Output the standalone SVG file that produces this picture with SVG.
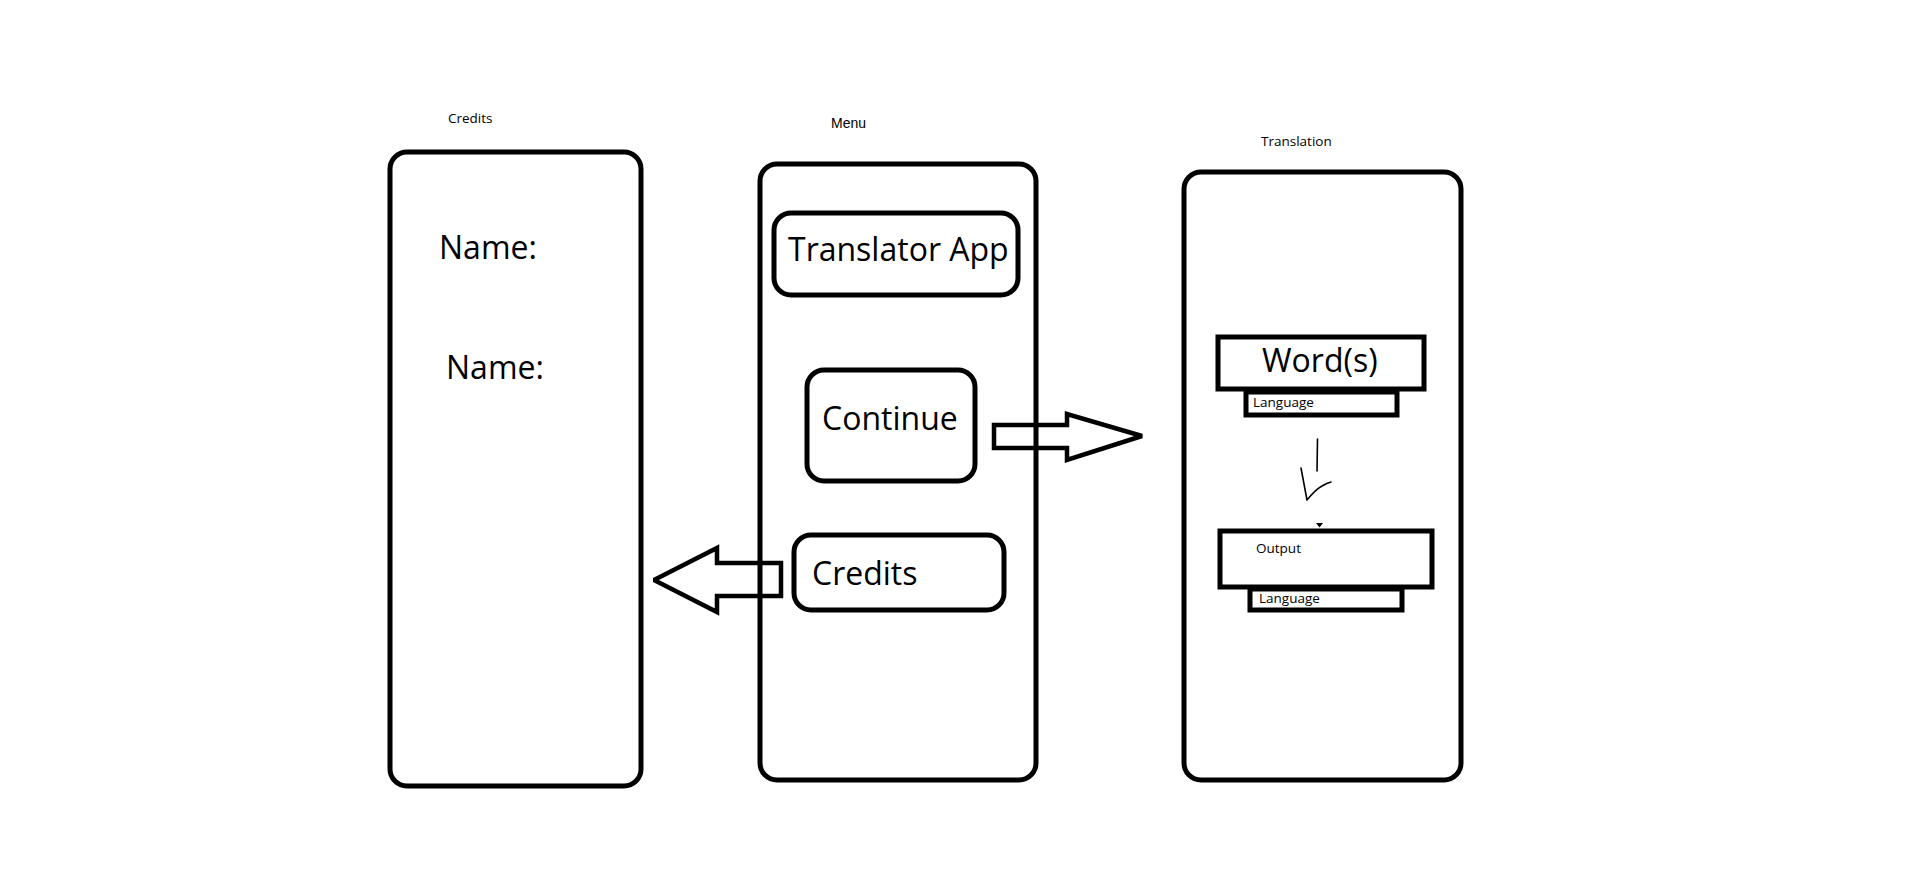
<svg xmlns="http://www.w3.org/2000/svg" width="1914" height="874" viewBox="0 0 1914 874">
<style>
.screen{fill:none;stroke:#000;stroke-width:5}
.btn{fill:none;stroke:#000;stroke-width:5}
.box{fill:none;stroke:#000;stroke-width:5}
.big{font-family:"Open Sans","Noto Sans",sans-serif;font-size:32px;fill:#000}
.small{font-family:"Open Sans","Noto Sans",sans-serif;font-size:13.5px;fill:#000}
.arrow{fill:none;stroke:#000;stroke-width:4.5;stroke-linejoin:miter;stroke-miterlimit:2}
.hand{fill:none;stroke:#000;stroke-width:1.6;stroke-linecap:round;stroke-linejoin:round}
</style>
<rect width="1914" height="874" fill="#fff"/>
<g id="credits-screen">
<text class="small" x="448" y="123">Credits</text>
<rect class="screen" x="390" y="152" width="251" height="634" rx="17"/>
<text class="big" x="439" y="259">Name:</text>
<text class="big" x="446" y="379">Name:</text>
</g>
<g id="menu-screen">
<text x="831" y="128" font-family="Liberation Sans, Arial, sans-serif" font-size="14px">Menu</text>
<rect class="screen" x="760" y="164" width="276" height="616" rx="17"/>
</g>
<g id="translator-app">
<rect class="btn" x="774" y="213" width="244" height="82" rx="17"/>
<text class="big" x="788" y="261">Translator App</text>
</g>
<g id="continue">
<rect class="btn" x="807" y="370" width="168" height="111" rx="17"/>
<text class="big" x="822" y="430">Continue</text>
</g>
<g id="credits-button">
<rect class="btn" x="794" y="535" width="210" height="75" rx="17"/>
<text class="big" x="812" y="585" font-size="30.5px">Credits</text>
</g>
<g id="translation-screen">
<text class="small" x="1261" y="146">Translation</text>
<rect class="screen" x="1184" y="172" width="277" height="608" rx="17"/>
</g>
<g id="words">
<rect class="box" x="1218" y="337" width="206" height="52"/>
<text class="big" x="1262" y="372">Word(s)</text>
</g>
<g id="language-in">
<rect class="box" x="1246" y="392" width="151" height="23"/>
<text class="small" x="1253" y="407" font-size="14px">Language</text>
</g>
<g id="output">
<rect class="box" x="1220" y="531" width="212" height="56"/>
<text class="small" x="1256" y="553">Output</text>
</g>
<g id="language-out">
<rect class="box" x="1250" y="589" width="152" height="21"/>
<text class="small" x="1259" y="603" font-size="14px">Language</text>
</g>
<g id="connectors">
<path class="arrow" d="M994,425 L1067,425 L1067,414 L1142,436 L1067,460 L1067,448 L994,448 Z"/>
<path class="arrow" d="M781,563 L717,563 L717,548 L654,580 L717,612 L717,596 L781,596 Z"/>
<path class="hand" d="M1317.5,439 L1317,471"/>
<path class="hand" d="M1301,468 L1307,500 Q1316,489 1322,486 Q1327,483 1331,482"/>
<path d="M1316,523 L1323,523 L1319.5,527.5 Z" fill="#000"/>
</g>
</svg>
